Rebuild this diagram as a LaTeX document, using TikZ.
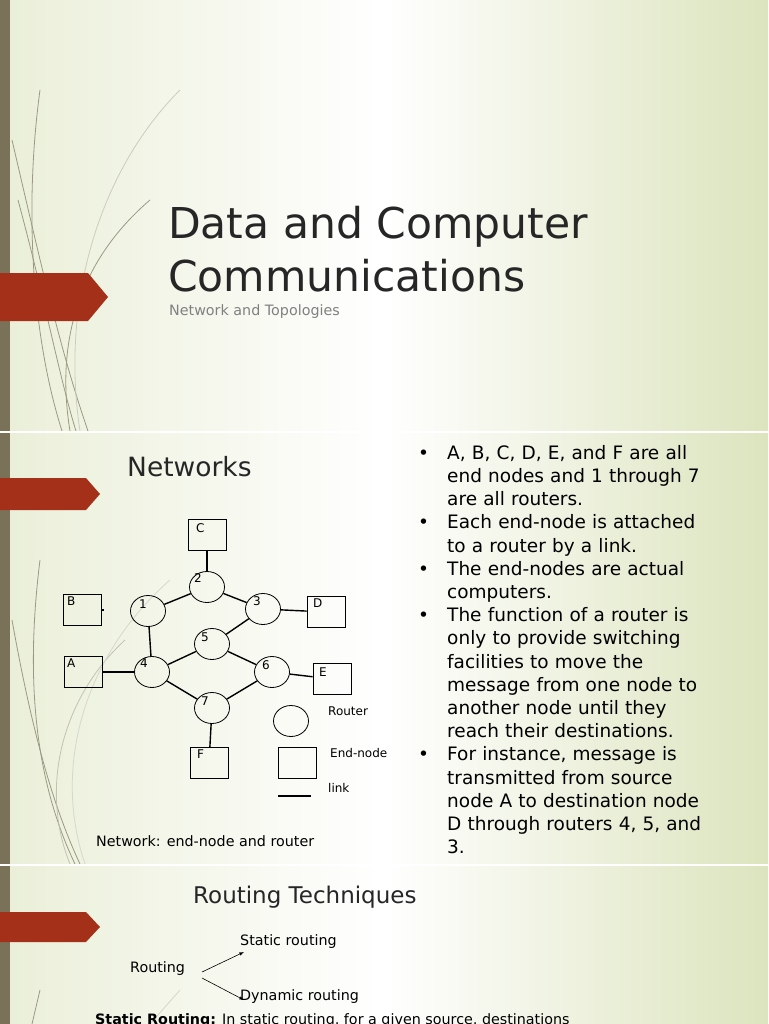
\documentclass[tikz,border=0pt]{standalone}
\usepackage{fontspec}
\setmainfont{DejaVu Sans}
\usetikzlibrary{shapes.geometric}
\begin{document}
\begin{tikzpicture}[x=1pt,y=-1pt,
  tab/.style={fill=tabred,draw=none},
  endbox/.style={draw,line width=0.8pt,minimum width=38pt,minimum height=31pt,inner sep=0pt},
  router/.style={draw,line width=0.8pt,ellipse,minimum width=35pt,minimum height=31pt,inner sep=0pt},
  link/.style={line width=1.4pt},
  lbl/.style={font=\fontsize{12}{14}\selectfont,anchor=north west,inner sep=0pt},
  deco/.style={draw=decog,line width=0.8pt}]
\definecolor{tabred}{HTML}{A5301A}
\definecolor{barc}{HTML}{7A7258}
\definecolor{bgg}{HTML}{DCE4BE}
\definecolor{decog}{HTML}{9A9A80}
\definecolor{txt}{HTML}{262626}
\useasboundingbox (0,0) rectangle (768,1024);
% backgrounds
\foreach \a/\b in {0/431,433/864,866/1024}{
  \shade[left color=bgg!60!white,right color=bgg,middle color=white] (0,\a) rectangle (768,\b);
}
\fill[white] (0,431) rectangle (768,433);
\fill[white] (0,864) rectangle (768,866);
\foreach \a/\b in {0/431,433/864,866/1024}{\fill[barc] (0,\a) rectangle (10,\b);}
% decorative curves slide 1
\draw[deco] (12,140) .. controls (40,260) and (60,350) .. (88,431);
\draw[deco] (18,200) .. controls (45,300) and (60,380) .. (76,431);
\draw[deco] (40,90) .. controls (25,200) and (30,330) .. (62,431);
\draw[deco] (150,200) .. controls (80,260) and (55,340) .. (70,431);
\draw[deco,draw=decog!50] (180,90) .. controls (100,170) and (60,300) .. (80,431);
% decorative curves slide 2
\draw[deco] (40,560) .. controls (25,680) and (35,780) .. (75,864);
\draw[deco] (12,620) .. controls (30,720) and (50,800) .. (80,864);
\draw[deco,draw=decog!60] (125,640) .. controls (60,700) and (40,790) .. (70,864);
\draw[deco,draw=decog!40] (170,580) .. controls (90,650) and (50,760) .. (85,864);
% slide 3
\draw[deco] (40,990) -- (32,1024);
\draw[deco,draw=decog!40] (180,990) -- (150,1024);
% tabs
\fill[tab] (0,273) -- (88,273) -- (108,297) -- (88,321) -- (0,321) -- cycle;
\fill[tab] (0,478) -- (86,478) -- (100,494) -- (86,510) -- (0,510) -- cycle;
\fill[tab] (0,912) -- (86,912) -- (100,927) -- (86,942) -- (0,942) -- cycle;
% slide 1 text
\node[anchor=west,inner sep=0pt,text=txt,font=\fontsize{42.5}{53}\selectfont,align=left] (title) at (168,249) {Data and Computer\\Communications};
\node[anchor=west,inner sep=0pt,text=gray,font=\fontsize{14.3}{16}\selectfont] (sub) at (169,312) {Network and Topologies};
% slide 2
\node[anchor=west,inner sep=0pt,text=txt,font=\fontsize{26.5}{30}\selectfont] (nets) at (127,467) {Networks};
\node[endbox] (C) at (207,535) {}; \node[lbl] at (196,523) {C};
\node[endbox] (B) at (82,610) {}; \node[lbl] at (67,597) {B};
\node[endbox] (D) at (326,612) {}; \node[lbl] at (313,599) {D};
\node[endbox] (A) at (83,672) {}; \node[lbl] at (67,659) {A};
\node[endbox] (E) at (332,679) {}; \node[lbl] at (319,668) {E};
\node[endbox] (F) at (209,763) {}; \node[lbl] at (197,750) {F};
\node[endbox] (Lb) at (297,763) {};
\node[router] (r2) at (207,587) {}; \node[lbl] at (194,573) {2};
\node[router] (r1) at (148,611) {}; \node[lbl] at (139,600) {1};
\node[router] (r3) at (263,609) {}; \node[lbl] at (253,596) {3};
\node[router] (r5) at (212,644) {}; \node[lbl] at (201,633) {5};
\node[router] (r4) at (152,672) {}; \node[lbl] at (140,659) {4};
\node[router] (r6) at (272,672) {}; \node[lbl] at (262,660) {6};
\node[router] (r7) at (212,708) {}; \node[lbl] at (201,697) {7};
\node[router] (Lr) at (291,721) {};
\draw[link] (C) -- (r2);
\draw[link] (r1) -- (r2);
\draw[link] (r2) -- (r3);
\draw[link] (r3) -- (D);
\draw[link] (r3) -- (r5);
\draw[link] (r1) -- (r4);
\draw[link] (A) -- (r4);
\draw[link] (r4) -- (r5);
\draw[link] (r5) -- (r6);
\draw[link] (r6) -- (E);
\draw[link] (r4) -- (r7);
\draw[link] (r6) -- (r7);
\draw[link] (r7) -- (F);
\draw[link] (B.east) -- ++(3,0);
\coordinate (l1) at (278,796); \coordinate (l2) at (311,796);
\draw[link] (l1) -- (l2);
\node[lbl,font=\fontsize{12}{14}\selectfont] (tR) at (328,707) {Router};
\node[lbl,font=\fontsize{12}{14}\selectfont] (tE) at (330,748) {End-node};
\node[lbl,font=\fontsize{12}{14}\selectfont] (tL) at (328,783) {link};
\node[anchor=west,inner sep=0pt,font=\fontsize{14.3}{16}\selectfont] (cap) at (96,841) {Network: end-node and router};
\node[anchor=north west,inner sep=0pt,font=\fontsize{18.5}{23.2}\selectfont,align=left,text width=340pt] (bul) at (418,445) {%
\makebox[29pt][l]{•}A, B, C, D, E, and F are all\\
\hspace*{29pt}end nodes and 1 through 7\\
\hspace*{29pt}are all routers.\\
\makebox[29pt][l]{•}Each end-node is attached\\
\hspace*{29pt}to a router by a link.\\
\makebox[29pt][l]{•}The end-nodes are actual\\
\hspace*{29pt}computers.\\
\makebox[29pt][l]{•}The function of a router is\\
\hspace*{29pt}only to provide switching\\
\hspace*{29pt}facilities to move the\\
\hspace*{29pt}message from one node to\\
\hspace*{29pt}another node until they\\
\hspace*{29pt}reach their destinations.\\
\makebox[29pt][l]{•}For instance, message is\\
\hspace*{29pt}transmitted from source\\
\hspace*{29pt}node A to destination node\\
\hspace*{29pt}D through routers 4, 5, and\\
\hspace*{29pt}3.};
% slide 3
\node[anchor=west,inner sep=0pt,text=txt,font=\fontsize{23}{26}\selectfont] (rt) at (193,897) {Routing Techniques};
\node[anchor=west,inner sep=0pt,font=\fontsize{14.3}{16}\selectfont] (rout) at (130,969) {Routing};
\node[anchor=west,inner sep=0pt,font=\fontsize{14.3}{16}\selectfont] (stat) at (240,942) {Static routing};
\node[anchor=west,inner sep=0pt,font=\fontsize{14.3}{16}\selectfont] (dyn) at (240,997) {Dynamic routing};
\draw[-latex,line width=0.6pt] (202,972) -- (244,952);
\draw[-latex,line width=0.6pt] (202,978) -- (244,1000);
\node[anchor=west,inner sep=0pt,font=\fontsize{14.3}{16}\selectfont] (sr) at (95,1021) {\textbf{Static Routing:} In static routing, for a given source, destinations};
\end{tikzpicture}
\end{document}
